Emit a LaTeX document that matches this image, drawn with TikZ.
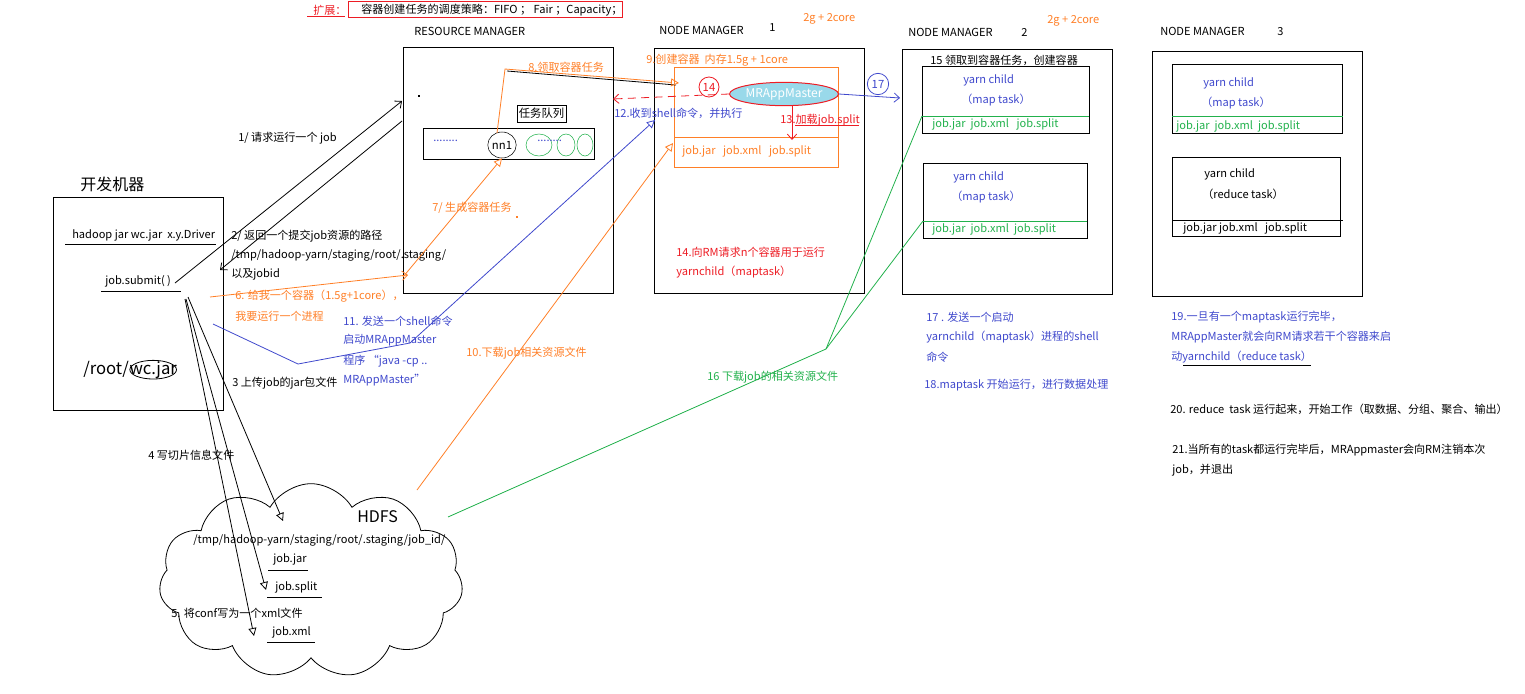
\documentclass[tikz,border=0pt]{standalone}
\usepackage{fontspec}
\setmainfont{Noto Sans CJK SC}
\usetikzlibrary{arrows.meta,shapes.geometric,shapes.symbols,fit}
\definecolor{porange}{HTML}{FF7F27}
\definecolor{pblue}{HTML}{3F48CC}
\definecolor{pgreen}{HTML}{22B14C}
\definecolor{pred}{HTML}{ED1C24}
\definecolor{plblue}{HTML}{99D9EA}
\begin{document}
\begin{tikzpicture}[x=0.75pt,y=-0.75pt,
  lbl/.style={anchor=west,inner sep=0pt,font=\fontsize{8.3}{10}\selectfont},
  box/.style={draw,inner sep=0pt,line width=0.75pt},
  conn/.style={line width=0.6pt},
  tri/.style={-{Triangle[open,length=6pt,width=6pt]}},
  barb/.style={-{Straight Barb[length=4pt,width=7pt]}},
  uline/.style={line width=0.75pt}]
\useasboundingbox (0,0) rectangle (1525,693);

% ---------- extension note
\node[lbl,text=pred] (ext) at (313,10) {扩展：};
\coordinate (extu1) at (307,16); \coordinate (extu2) at (345,16);
\draw[pred,uline] (extu1) -- (extu2);
\node[draw=pred,line width=0.75pt,fit={(348,1)(622,17)},inner sep=0pt] (extbox) {};
\node[lbl] (exttxt) at (361,10) {容器创建任务的调度策略：FIFO ； Fair ；Capacity；};

% ---------- resource manager
\node[lbl] (rmtitle) at (414,31) {RESOURCE MANAGER};
\node[box,fit={(403,47)(613,293)}] (rm) {};
\fill (418,95) rectangle (420,97);
\fill[porange] (516,216) rectangle (518,218);
\node[draw,line width=0.75pt,inner sep=0pt,minimum width=36.75pt,minimum height=12.75pt,font=\fontsize{8.5}{10}\selectfont] (qlabel) at (541.5,113.5) {任务队列};
\node[box,fit={(423,128)(594,159)}] (queue) {};
\node[lbl,text=pblue] (qdots) at (433,141) {........};
\node[draw,ellipse,inner sep=0pt,minimum width=21pt,minimum height=19.5pt,font=\fontsize{8.5}{10}\selectfont] (nn1) at (502,145) {nn1};
\node[draw=pgreen,ellipse,inner sep=0pt,minimum width=19.5pt,minimum height=16.5pt] (g1) at (539,145) {};
\node[draw=pgreen,ellipse,inner sep=0pt,minimum width=13.5pt,minimum height=16.5pt] (g2) at (566,145) {};
\node[draw=pgreen,ellipse,inner sep=0pt,minimum width=12pt,minimum height=16.5pt] (g3) at (585,145) {};
\node[lbl,text=pblue] (gdots) at (537,141) {........};

% ---------- node manager 1
\node[lbl] (nm1title) at (659,30) {NODE MANAGER};
\node[lbl] (nm1num) at (769,28) {1};
\node[lbl,text=porange] (nm1res) at (803,19) {2g + 2core};
\node[box,fit={(654,48)(864,293)}] (nm1) {};
\node[lbl,text=porange] (l9) at (646,60) {9.创建容器\ \ 内存1.5g + 1core};
\node[draw=porange,line width=0.75pt,inner sep=0pt,fit={(674,67)(838,167)}] (cont1) {};
\coordinate (c1s1) at (674,137); \coordinate (c1s2) at (838,137);
\draw[porange,uline] (c1s1) -- (c1s2);
\node[lbl,text=porange] (c1files) at (682,151) {job.jar\ \ \ job.xml\ \ \ job.split};
\node[draw=pred,ellipse,fill=plblue,line width=0.75pt,inner sep=0pt,minimum width=76.5pt,minimum height=17.5pt,text=white,font=\fontsize{9}{10}\selectfont] (mr) at (784,94) {MRAppMaster};
\node[draw=pred,circle,line width=0.6pt,inner sep=0pt,minimum size=15pt,text=pred,font=\fontsize{8.5}{10}\selectfont] (c14) at (709,87) {14};
\node[draw=pblue,circle,line width=0.6pt,inner sep=0pt,minimum size=16pt,text=pblue,font=\fontsize{8.5}{10}\selectfont] (c17) at (878,84) {17};
\node[lbl,text=pblue] (l12) at (614,113) {12.收到shell命令，并执行};
\node[lbl,text=pred] (l13) at (780,120) {13.加载job.split};
\coordinate (l13u1) at (795,125); \coordinate (l13u2) at (859,125);
\draw[pred,line width=0.6pt] (l13u1) -- (l13u2);
\node[lbl,text=pred] (l14a) at (676,252) {14.向RM请求n个容器用于运行};
\node[lbl,text=pred] (l14b) at (676,272) {yarnchild（maptask）};

% ---------- node manager 2
\node[lbl] (nm2title) at (908,32) {NODE MANAGER};
\node[lbl] (nm2num) at (1021,32) {2};
\node[lbl,text=porange] (nm2res) at (1047,21) {2g + 2core};
\node[box,fit={(902,49)(1112,294)}] (nm2) {};
\node[lbl] (l15) at (930,60) {15 领取到容器任务，创建容器};
\node[box,fit={(922,66)(1089,133)}] (n2a) {};
\coordinate (n2as1) at (922,116); \coordinate (n2as2) at (1089,116);
\draw[pgreen,uline] (n2as1) -- (n2as2);
\node[lbl,text=pblue] (n2ay) at (963,80) {yarn child};
\node[lbl,text=pblue] (n2am) at (961,100) {（map task）};
\node[lbl,text=pgreen] (n2af) at (932,124) {job.jar\ \ job.xml\ \ \ job.split};
\node[box,fit={(923,163)(1087,238)}] (n2b) {};
\coordinate (n2bs1) at (923,221); \coordinate (n2bs2) at (1087,221);
\draw[pgreen,uline] (n2bs1) -- (n2bs2);
\node[lbl,text=pblue] (n2by) at (953,177) {yarn child};
\node[lbl,text=pblue] (n2bm) at (951,197) {（map task）};
\node[lbl,text=pgreen] (n2bf) at (932,229) {job.jar\ \ job.xml\ \ job.split};

% ---------- node manager 3
\node[lbl] (nm3title) at (1160,31) {NODE MANAGER};
\node[lbl] (nm3num) at (1277,32) {3};
\node[box,fit={(1152,51)(1362,296)}] (nm3) {};
\node[box,fit={(1172,64)(1342,133)}] (n3a) {};
\coordinate (n3as1) at (1172,116); \coordinate (n3as2) at (1343,116);
\draw[pgreen,uline] (n3as1) -- (n3as2);
\node[lbl,text=pblue] (n3ay) at (1203,83) {yarn child};
\node[lbl,text=pblue] (n3am) at (1201,103) {（map task）};
\node[lbl,text=pgreen] (n3af) at (1176,126) {job.jar\ \ job.xml\ \ job.split};
\node[box,fit={(1172,157)(1340,236)}] (n3b) {};
\coordinate (n3bs1) at (1172,220); \coordinate (n3bs2) at (1343,220);
\draw[uline] (n3bs1) -- (n3bs2);
\node[lbl] (n3by) at (1204,174) {yarn child};
\node[lbl] (n3bm) at (1202,194) {（reduce task）};
\node[lbl] (n3bf) at (1183,228) {job.jar job.xml\ \ \ job.split};

% ---------- developer machine
\node[lbl,font=\fontsize{12}{14}\selectfont] (devtitle) at (80,184) {开发机器};
\node[box,fit={(53,197)(223,410)}] (dev) {};
\node[lbl] (cmd) at (72,235) {hadoop jar wc.jar\ \ x.y.Driver};
\coordinate (cmdu1) at (65,244); \coordinate (cmdu2) at (216,244);
\draw[uline] (cmdu1) -- (cmdu2);
\node[lbl] (submit) at (105,281) {job.submit( )};
\coordinate (subu1) at (101,291); \coordinate (subu2) at (181,291);
\draw[uline] (subu1) -- (subu2);
\node[lbl,font=\fontsize{12.5}{15}\selectfont] (rootdir) at (83,369) {/root/};
\node[lbl,font=\fontsize{12.5}{15}\selectfont,anchor=base west] (wcjar) at (rootdir.base east) {wc.jar};
\node[draw,ellipse,inner sep=0pt,minimum width=35pt,minimum height=14pt,line width=0.6pt] (wcell) at (wcjar.center) {};

% ---------- HDFS
\node[cloud,draw,cloud puffs=11,cloud puff arc=120,aspect=1.6,inner sep=0pt,minimum width=228pt,minimum height=146pt,line width=0.6pt] (hdfs) at (311,581) {};
\node[lbl,font=\fontsize{12}{14}\selectfont] (hdfst) at (357,517) {HDFS};
\node[lbl] (hpath) at (193,540) {/tmp/hadoop-yarn/staging/root/.staging/job\_id/};
\node[lbl] (hjar) at (273,559) {job.jar};
\coordinate (hjaru1) at (268,570); \coordinate (hjaru2) at (308,570);
\draw[uline] (hjaru1) -- (hjaru2);
\node[lbl] (hsplit) at (275,587) {job.split};
\coordinate (hsplu1) at (267,597); \coordinate (hsplu2) at (322,597);
\draw[uline] (hsplu1) -- (hsplu2);
\node[lbl] (hxml) at (272,632) {job.xml};
\coordinate (hxmlu1) at (267,642); \coordinate (hxmlu2) at (315,642);
\draw[uline] (hxmlu1) -- (hxmlu2);

% ---------- step labels
\node[lbl] (l1) at (238,138) {1/ 请求运行一个 job};
\node[lbl] (l2a) at (231,236) {2/ 返回一个提交job资源的路径};
\node[lbl] (l2b) at (231,255) {/tmp/hadoop-yarn/staging/root/.staging/};
\node[lbl] (l2c) at (231,274) {以及jobid};
\node[lbl,text=porange] (l6a) at (235,296) {6. 给我一个容器（1.5g+1core），};
\node[lbl,text=porange] (l6b) at (235,316) {我要运行一个进程};
\node[lbl,text=porange] (l7) at (432,208) {7/ 生成容器任务};
\node[lbl,text=porange] (l8) at (528,67) {8.领取容器任务};
\node[lbl,text=pblue] (l11a) at (343,321) {11. 发送一个shell命令};
\node[lbl,text=pblue] (l11b) at (343,340) {启动MRAppMaster};
\node[lbl,text=pblue] (l11c) at (343,361) {程序\ “java -cp ..};
\node[lbl,text=pblue] (l11d) at (343,380) {MRAppMaster"};
\node[lbl] (l3) at (232,383) {3 上传job的jar包文件};
\node[lbl] (l4) at (148,455) {4 写切片信息文件};
\node[lbl] (l5) at (171,613) {5. 将conf写为一个xml文件};
\node[lbl,text=porange] (l10) at (466,353) {10.下载job相关资源文件};
\node[lbl,text=pgreen] (l16) at (707,377) {16 下载job的相关资源文件};

\node[lbl,text=pblue] (l17a) at (926,317) {17 . 发送一个启动};
\node[lbl,text=pblue] (l17b) at (926,337) {yarnchild（maptask）进程的shell};
\node[lbl,text=pblue] (l17c) at (926,357) {命令};
\node[lbl,text=pblue] (l18) at (924,385) {18.maptask 开始运行，进行数据处理};
\node[lbl,text=pblue] (l19a) at (1171,317) {19.一旦有一个maptask运行完毕，};
\node[lbl,text=pblue] (l19b) at (1171,337) {MRAppMaster就会向RM请求若干个容器来启};
\node[lbl,text=pblue] (l19c) at (1171,357) {动yarnchild（reduce task）};
\coordinate (l19u1) at (1183,365); \coordinate (l19u2) at (1311,365);
\draw[uline] (l19u1) -- (l19u2);
\node[lbl] (l20) at (1170,409) {20. reduce\ \ task 运行起来，开始工作（取数据、分组、聚合、输出）};
\node[lbl] (l21a) at (1172,450) {21.当所有的task都运行完毕后，MRAppmaster会向RM注销本次};
\node[lbl] (l21b) at (1172,470) {job，并退出};

% ---------- connectors
% 1 request job
\coordinate (a1s) at (175,283); \coordinate (a1e) at (402,101);
\draw[conn,barb] (a1s) -- (a1e);
% 2 return path
\coordinate (a2s) at (402,121); \coordinate (a2e) at (220,270);
\draw[conn,barb] (a2s) -- (a2e);
% 3,4,5 uploads to HDFS
\coordinate (a3s) at (188,297); \coordinate (a3e) at (283,521);
\coordinate (a4s) at (186,299); \coordinate (a4e) at (266,590);
\coordinate (a5s) at (185,299); \coordinate (a5e) at (254,636);
\draw[conn,tri] (a3s) -- (a3e);
\draw[conn,tri] (a4s) -- (a4e);
\draw[conn,tri] (a5s) -- (a5e);
% 6 ask container
\coordinate (a6s) at (210,297); \coordinate (a6e) at (408,275);
\draw[conn,porange,barb] (a6s) -- (a6e);
% 7 create container task
\coordinate (a7s) at (403,277);
\draw[conn,porange,tri] (a7s) -- (nn1.south);
% 8 fetch container task
\coordinate (a8a) at (497,133); \coordinate (a8b) at (505,69); \coordinate (a8k) at (507,71);
\coordinate (a8e) at (679,83); \coordinate (a8ek) at (676,85);
\draw[conn] (a8k) -- (a8ek);
\draw[conn,porange,tri] (a8a) -- (a8b) -- (a8e);
% 10 download resources
\coordinate (a10s) at (417,490); \coordinate (a10e) at (673,143);
\draw[conn,porange,tri] (a10s) -- (a10e);
% 11 shell command
\coordinate (a11s) at (213,324); \coordinate (a11b) at (298,364); \coordinate (a11c) at (410,343); \coordinate (a11e) at (655,120);
\draw[conn,pblue,tri] (a11s) -- (a11b) -- (a11c) -- (a11e);
% 12 dashed red back
\coordinate (a12e) at (613,99);
\draw[conn,pred,dashed,dash pattern=on 6pt off 4pt,barb] (mr.west) -- (a12e);
% 13 load split
\coordinate (a13e) at (792,140);
\draw[conn,pred,barb] (mr.south -| a13e) -- (a13e);
% 17 to NM2
\coordinate (a17e) at (900,98);
\draw[conn,pblue,barb] (mr.east) -- (a17e);
% 16 download to NM2 containers
\coordinate (a16s) at (448,517); \coordinate (a16b) at (826,349);
\draw[conn,pgreen] (a16s) -- (a16b) -- (n2as1);
\draw[conn,pgreen] (a16b) -- (n2bs1);

\end{tikzpicture}
\end{document}
